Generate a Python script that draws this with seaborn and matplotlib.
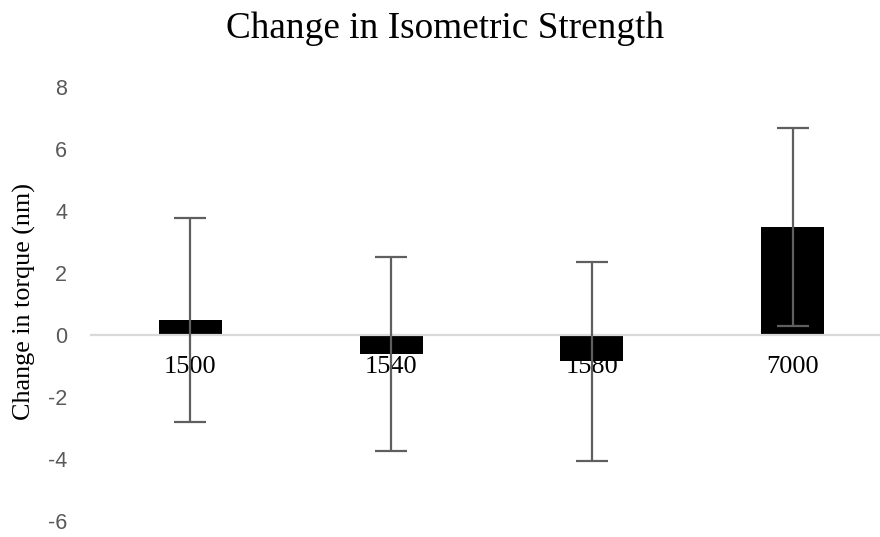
import matplotlib
matplotlib.use("Agg")
import matplotlib.pyplot as plt
import seaborn as sns
import pandas as pd
import numpy as np

categories = ["1500", "1540", "1580", "7000"]
values = [0.47, -0.62, -0.85, 3.48]
errors = [3.29, 3.13, 3.20, 3.20]
yticks = [-6, -4, -2, 0, 2, 4, 6, 8]

sns.set_theme(style="white")
plt.rcParams["font.family"] = ["Liberation Sans", "DejaVu Sans"]

df = pd.DataFrame({"cat": categories, "val": values, "err": errors})

fig = plt.figure(figsize=(8.8, 5.37), dpi=100)
ax = fig.add_axes([90 / 880, (537 - 521) / 537, 803 / 880, 434 / 537])

sns.barplot(data=df, x="cat", y="val", color="black", width=0.314,
            saturation=1, ax=ax, errorbar=None, edgecolor="black", linewidth=0)
ax.errorbar(np.arange(len(categories)), df["val"], yerr=df["err"], fmt="none",
            ecolor="#5f5f5f", elinewidth=1.6, capsize=11.5, capthick=1.6, zorder=5)

ax.axhline(0, color="#d9d9d9", lw=1.6, zorder=1)
ax.set_xlim(-0.5, 3.5)
ax.set_ylim(-6, 8)
ax.set_yticks(yticks)
ax.set_yticklabels([str(t) for t in yticks], color="#595959", fontsize=15.5)
ax.tick_params(axis="y", length=0, pad=16.5)
ax.set_xticks([])
ax.set_xlabel("")
ax.set_ylabel("Change in torque (nm)", family=["Liberation Serif"], fontsize=18.8,
              color="black")
ax.yaxis.set_label_coords(36 / 880, 1 - 302 / 537, transform=fig.transFigure)
for s in ax.spines.values():
    s.set_visible(False)

for i, c in enumerate(categories):
    ax.annotate(c, (i, 0), xytext=(0, -27.7), textcoords="offset points",
                ha="center", va="baseline", family=["Liberation Serif"], fontsize=19,
                color="black", zorder=3)

fig.text(0.506, 1 - 38 / 537, "Change in Isometric Strength", ha="center", va="baseline",
         family=["Liberation Serif"], fontsize=26.8, color="black")

fig.savefig("out.png", dpi=100)
